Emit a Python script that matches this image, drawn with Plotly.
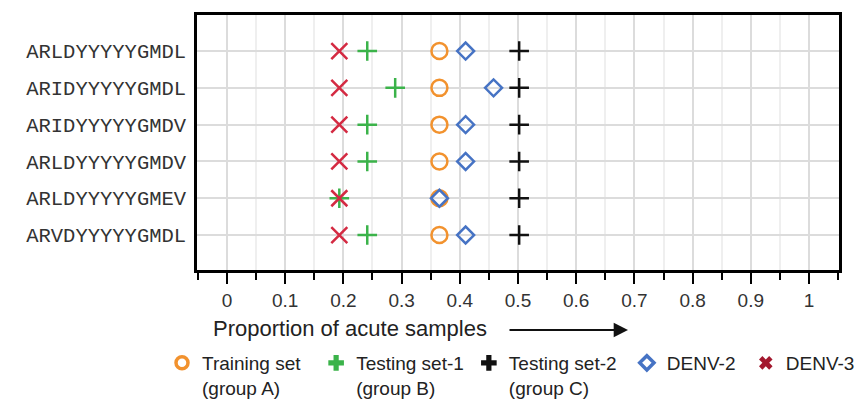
import plotly.graph_objects as go

sequences = ["ARLDYYYYYGMDL", "ARIDYYYYYGMDL", "ARIDYYYYYGMDV",
             "ARLDYYYYYGMDV", "ARLDYYYYYGMEV", "ARVDYYYYYGMDL"]
training_a = [0.365, 0.365, 0.365, 0.365, 0.365, 0.365]
testing1_b = [0.241, 0.289, 0.241, 0.241, 0.193, 0.241]
testing2_c = [0.502, 0.502, 0.502, 0.502, 0.502, 0.502]
denv2 = [0.410, 0.458, 0.410, 0.410, 0.365, 0.410]
denv3 = [0.193, 0.193, 0.193, 0.193, 0.193, 0.193]
x_ticks = [0, 0.1, 0.2, 0.3, 0.4, 0.5, 0.6, 0.7, 0.8, 0.9, 1]
x_tick_labels = ["0", "0.1", "0.2", "0.3", "0.4", "0.5", "0.6", "0.7", "0.8", "0.9", "1"]

ypos = list(range(len(sequences)))

ORANGE = "#F2922E"
GREEN = "#3BB34A"
BLACK = "#111111"
BLUE = "#4673C4"
RED = "#D42A42"
DARKRED = "#A3182E"
NB = "\u00a0"

fig = go.Figure()

# data traces (drawn in plot)
series = [
    (training_a, "circle-open", ORANGE, 16, 2.5),
    (testing1_b, "cross-thin-open", GREEN, 14, 2.5),
    (testing2_c, "cross-thin-open", BLACK, 14, 2.5),
    (denv2, "diamond-open", BLUE, 13, 2.5),
    (denv3, "x-thin-open", RED, 16, 2.5),
]
for vals, sym, col, size, lw in series:
    fig.add_trace(go.Scatter(
        x=vals, y=ypos, mode="markers", showlegend=False, hoverinfo="skip",
        marker=dict(symbol=sym, size=size, color=col, line=dict(color=col, width=lw)),
    ))

# legend entries
legend_items = [
    ("Training set" + NB * 2 + "<br>(group A)", "circle-open", ORANGE, 12, 3.5),
    ("Testing set-1<br>(group B)", "cross", GREEN, 13, 0),
    ("Testing set-2" + NB + "<br>(group C)", "cross", BLACK, 13, 0),
    ("DENV-2" + NB, "diamond-open", BLUE, 11, 3.5),
    ("DENV-3", "x", DARKRED, 12, 0),
]
for name, sym, col, size, lw in legend_items:
    fig.add_trace(go.Scatter(
        x=[None], y=[None], mode="markers", name=name,
        marker=dict(symbol=sym, size=size, color=col, line=dict(color=col, width=lw)),
    ))

W, H = 858, 403
ml, mr, mt, mb = 197, 19, 15, 133
pw = W - ml - mr
ph = H - mt - mb

def px_x(p):
    return (p - ml) / pw

def px_y(p):
    return (H - mb - p) / ph

fig.update_layout(
    width=W, height=H,
    margin=dict(l=ml, r=mr, t=mt, b=mb, autoexpand=False),
    paper_bgcolor="white", plot_bgcolor="white",
    font=dict(family="Arial, Liberation Sans, sans-serif", color="#333333"),
    xaxis=dict(
        range=[-0.0515, 1.0515],
        tickvals=x_ticks, ticktext=x_tick_labels,
        showgrid=True, gridcolor="#DCDCDC", gridwidth=2,
        zeroline=False,
        showline=True, linecolor="black", linewidth=2.5, mirror=True,
        ticks="outside", ticklen=11, tickwidth=2, tickcolor="black",
        tickfont=dict(size=19, color="#333333"),
        minor=dict(dtick=0.05, tick0=0, showgrid=True, gridcolor="#EFEFEF", gridwidth=2,
                   ticks="outside", ticklen=7, tickwidth=2, tickcolor="black"),
    ),
    yaxis=dict(
        range=[5.95, -0.98],
        tickvals=ypos, ticktext=sequences,
        showgrid=True, gridcolor="#DCDCDC", gridwidth=2,
        zeroline=False,
        showline=True, linecolor="black", linewidth=2.5, mirror=True,
        ticks="", ticklabelstandoff=4,
        tickfont=dict(family="Liberation Mono, Courier New, monospace", size=20.5, color="#333333"),
    ),
    legend=dict(
        orientation="h", x=px_x(162), y=px_y(344), xanchor="left", yanchor="top",
        font=dict(size=19, color="#222222"), valign="top",
        bgcolor="rgba(0,0,0,0)", tracegroupgap=0, itemwidth=30,
    ),
    annotations=[
        dict(text="Proportion of acute samples", xref="paper", yref="paper",
             x=px_x(211), y=px_y(328), xanchor="left", yanchor="middle",
             showarrow=False, font=dict(size=22, color="#222222")),
        dict(text="", xref="paper", yref="paper", x=px_x(628), y=px_y(330),
             axref="pixel", ayref="pixel", ax=-120, ay=0, showarrow=True,
             arrowhead=2, arrowsize=1.3, arrowwidth=2.2, arrowcolor="#111111"),
    ],
)

fig.write_html("out.html")
